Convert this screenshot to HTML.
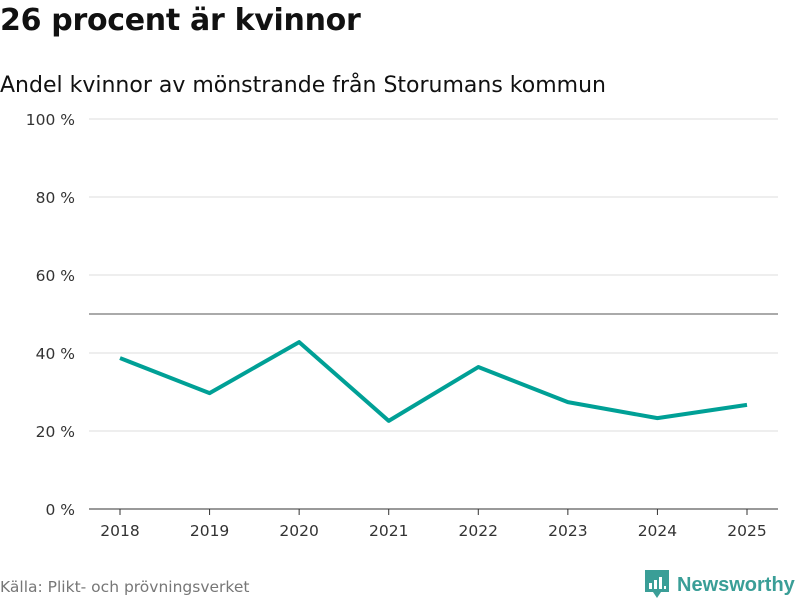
<!DOCTYPE html>
<html><head><meta charset="utf-8"><style>
body{margin:0;width:800px;height:600px;background:#fff;font-family:"DejaVu Sans",sans-serif;overflow:hidden;position:relative}
#t{position:absolute;left:0;top:3px;font-size:30px;font-weight:bold;color:#111;letter-spacing:-0.3px}
#s{position:absolute;left:0;top:73px;font-size:22px;color:#111}
#src{position:absolute;left:0;top:578px;font-size:15.5px;color:#777}
#logo{position:absolute;left:645px;top:570px;display:flex;align-items:center}
</style></head><body>
<div id="t">26 procent är kvinnor</div>
<div id="s">Andel kvinnor av mönstrande från Storumans kommun</div>
<svg id="c" width="800" height="600" style="position:absolute;left:0;top:0"></svg>
<div id="src">Källa: Plikt- och prövningsverket</div>
<div id="logo">
<svg width="24" height="30" viewBox="0 0 24 30"><path d="M0 0H24V22H16L12 28L8 22H0Z" fill="#3a9e97"/><rect x="4" y="13" width="3" height="6" fill="#fff"/><rect x="9" y="10" width="3" height="9" fill="#fff"/><rect x="14" y="7" width="3" height="12" fill="#fff"/><rect x="19" y="16" width="2" height="3" fill="#fff"/></svg>
<span style="font-family:'Liberation Sans',sans-serif;font-size:20px;font-weight:bold;color:#3a9e97;margin-left:8px">Newsworthy</span></div>
<script>
const years=["2018","2019","2020","2021","2022","2023","2024","2025"];
const values=[38.7,29.7,42.8,22.6,36.4,27.4,23.3,26.7];
const yTicks=[0,20,40,60,80,100];
const svg=document.getElementById('c');const NS="http://www.w3.org/2000/svg";
const x=i=>120+i*(747-120)/(years.length-1);
const y=v=>509-v*3.9;
function mk(t,a,txt){const e=document.createElementNS(NS,t);for(const k in a)e.setAttribute(k,a[k]);if(txt!=null)e.textContent=txt;svg.appendChild(e);return e;}
yTicks.forEach(v=>{
 const g=mk('line',{x1:89,x2:778,y1:y(v),y2:y(v),stroke:v===0?'#333':'#ddd','stroke-width':1});
 
 
 const t=mk('text',{x:75,y:y(v)+6,'text-anchor':'end','font-size':15.5,fill:'#333'},v+' %');
 
 
});
const r=mk('line',{x1:89,x2:778,y1:y(50),y2:y(50),stroke:'#777','stroke-width':1.3});


years.forEach((yr,i)=>{
 const tk=mk('line',{x1:x(i),x2:x(i),y1:509,y2:515,stroke:'#333'});
 
 
 const t=mk('text',{x:x(i),y:536,'text-anchor':'middle','font-size':15.5,fill:'#333'},yr);
 
 
});
const p=mk('polyline',{points:values.map((v,i)=>x(i)+','+y(v)).join(' '),fill:'none',stroke:'#00a096','stroke-width':4,'stroke-linejoin':'round'});


</script>
</body></html>
